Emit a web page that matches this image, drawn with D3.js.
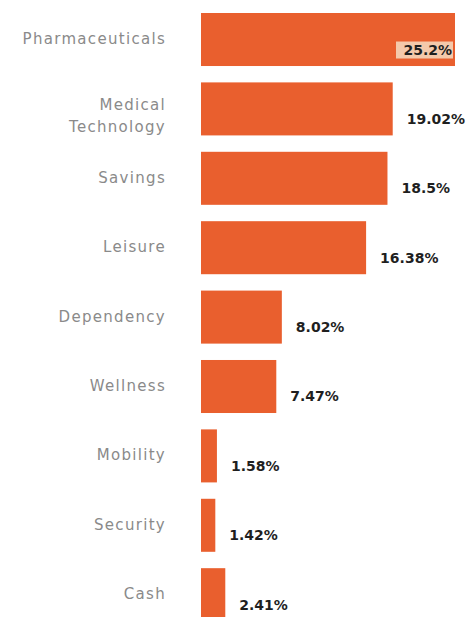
<!DOCTYPE html>
<html>
<head>
<meta charset="utf-8">
<script src="https://cdn.jsdelivr.net/npm/d3@7"></script>
<style>
  html, body { margin: 0; padding: 0; background: #fff; }
  svg { display: block; }
</style>
</head>
<body>
<svg id="chart" width="476" height="617"></svg>
<script>
const categories = ["Pharmaceuticals", "Medical Technology", "Savings", "Leisure", "Dependency", "Wellness", "Mobility", "Security", "Cash"];
const values = [25.2, 19.02, 18.5, 16.38, 8.02, 7.47, 1.58, 1.42, 2.41];
const valueLabels = ["25.2%", "19.02%", "18.5%", "16.38%", "8.02%", "7.47%", "1.58%", "1.42%", "2.41%"];
const labelLines = [["Pharmaceuticals"], ["Medical", "Technology"], ["Savings"], ["Leisure"], ["Dependency"], ["Wellness"], ["Mobility"], ["Security"], ["Cash"]];

const svg = d3.select("#chart");
const x0 = 201;
const x = d3.scaleLinear().domain([0, 25.2]).range([0, 254]);
const y = d3.scaleBand().domain(categories).range([13, 621.2]).paddingInner(0.236).paddingOuter(0);

const data = categories.map((c, i) => ({ c, v: values[i], lab: valueLabels[i], lines: labelLines[i] }));

svg.selectAll("rect.bar").data(data).join("rect")
  .attr("class", "bar")
  .attr("x", x0)
  .attr("y", d => y(d.c))
  .attr("width", d => x(d.v))
  .attr("height", y.bandwidth())
  .attr("fill", "#E95F2E");

// category labels
const catG = svg.selectAll("text.cat").data(data).join("text")
  .attr("class", "cat")
  .attr("text-anchor", "end")
  .attr("font-family", "'DejaVu Sans', sans-serif")
  .attr("font-size", 15)
  .attr("letter-spacing", 1.3)
  .attr("fill", "#8a8a8a");
catG.each(function(d) {
  const cy = y(d.c) + y.bandwidth() / 2;
  const t = d3.select(this);
  if (d.lines.length === 1) {
    t.append("tspan").attr("x", 166).attr("y", cy + 4.5).text(d.lines[0]);
  } else {
    d.lines.forEach((ln, j) => {
      t.append("tspan").attr("x", 166).attr("y", cy + 1.5 + j * 21.5).text(ln);
    });
  }
});

// value labels
data.forEach((d, i) => {
  const cy = y(d.c) + y.bandwidth() / 2;
  const end = x0 + x(d.v);
  const inside = i === 0;
  if (inside) {
    svg.append("rect")
      .attr("x", end - 59).attr("y", cy + 2)
      .attr("width", 57).attr("height", 17)
      .attr("fill", "#f4c9ab");
  }
  svg.append("text")
    .attr("x", inside ? end - 3 : end + 14)
    .attr("y", cy + 15)
    .attr("text-anchor", inside ? "end" : "start")
    .attr("font-family", "'DejaVu Sans', sans-serif")
    .attr("font-weight", "bold")
    .attr("font-size", 14)
    .attr("fill", "#1f1f1f")
    .text(d.lab);
});
</script>
</body>
</html>
